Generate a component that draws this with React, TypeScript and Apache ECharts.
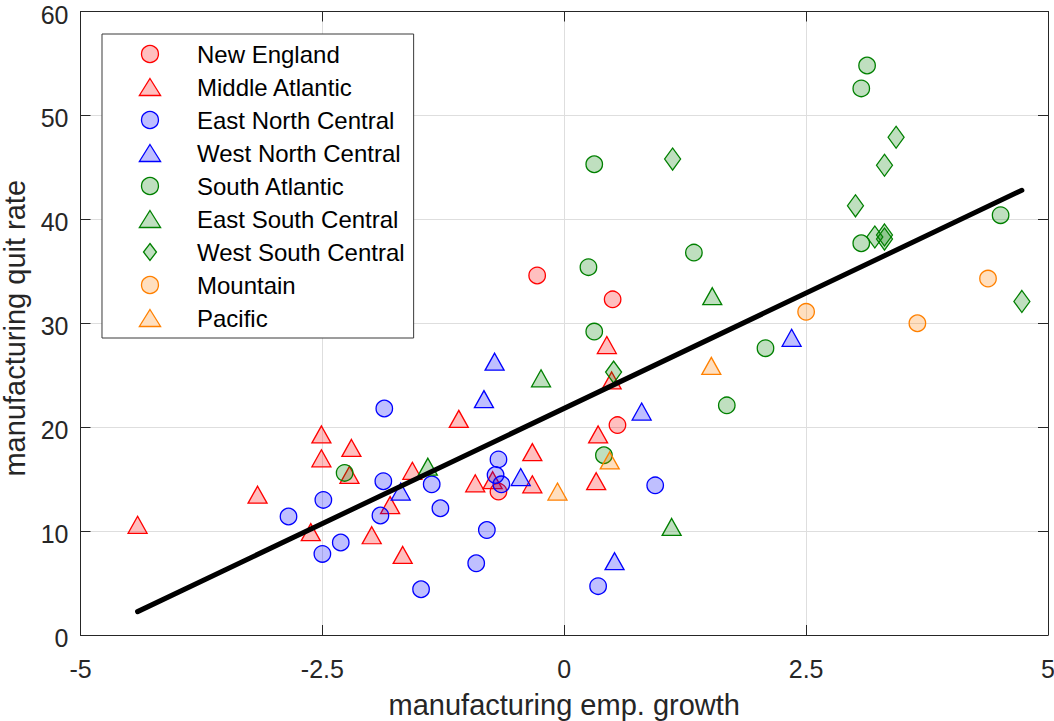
import React, { useEffect, useRef } from "react";
import * as echarts from "echarts";

const groupNames = [
  "New England",
  "Middle Atlantic",
  "East North Central",
  "West North Central",
  "South Atlantic",
  "East South Central",
  "West South Central",
  "Mountain",
  "Pacific",
];

const newEnglandX = [-0.28, 0.5, 0.55, -0.68];
const newEnglandY = [34.6, 32.3, 20.2, 13.8];

const middleAtlanticX = [-4.41, -3.17, -2.51, -2.51, -2.2, -2.22, -2.62, -1.99, -1.67, -1.8, -1.57, -1.09, -0.92, -0.74, -0.33, -0.33, 0.44, 0.49, 0.35, 0.33];
const middleAtlanticY = [10.6, 13.5, 19.3, 17.0, 18.0, 15.4, 9.9, 9.6, 7.7, 12.5, 15.8, 20.8, 14.6, 14.9, 17.6, 14.5, 27.9, 24.5, 19.3, 14.8];

const eastNorthCentralX = [-1.86, -1.87, -2.49, -2.85, -2.31, -2.5, -1.9, -1.37, -1.28, -1.48, -0.91, -0.8, -0.68, -0.71, -0.65, 0.94, 0.35];
const eastNorthCentralY = [21.8, 14.8, 13.0, 11.4, 8.9, 7.8, 11.5, 14.5, 12.2, 4.4, 6.9, 10.1, 16.9, 15.4, 14.5, 14.4, 4.7];

const westNorthCentralX = [-0.72, -0.83, -1.69, -0.45, 0.8, 2.35, 0.52];
const westNorthCentralY = [26.3, 22.7, 13.8, 15.2, 21.5, 28.6, 7.1];

const southAtlanticX = [3.13, 3.07, 0.31, 1.34, 0.25, 3.07, 4.51, 0.31, 2.08, 1.68, 0.41, -2.27];
const southAtlanticY = [54.8, 52.6, 45.3, 36.8, 35.4, 37.7, 40.4, 29.2, 27.6, 22.1, 17.3, 15.6];

const eastSouthCentralX = [1.53, -0.24, -1.41, 1.11];
const eastSouthCentralY = [32.6, 24.7, 16.2, 10.4];

const westSouthCentralX = [1.12, 3.43, 3.31, 3.01, 3.21, 3.31, 3.31, 4.73, 0.51];
const westSouthCentralY = [45.8, 47.9, 45.2, 41.3, 38.3, 38.5, 38.1, 32.1, 25.3];

const mountainX = [2.5, 4.38, 3.65];
const mountainY = [31.1, 34.3, 30.0];

const pacificX = [1.52, 0.47, -0.07];
const pacificY = [25.9, 16.8, 13.8];

const fitX = [-4.41, 4.73];
const fitY = [2.25, 42.8];

const xTicks = [-5, -2.5, 0, 2.5, 5];
const yTicks = [0, 10, 20, 30, 40, 50, 60];

const FONT = "'Liberation Sans', Arial, Helvetica, sans-serif";
const AXIS_COLOR = "#262626";

const RED = { edge: "#ff0000", fill: "rgba(255,0,0,0.25)" };
const BLUE = { edge: "#0000ff", fill: "rgba(0,0,255,0.25)" };
const GREEN = { edge: "#008000", fill: "rgba(0,128,0,0.25)" };
const ORANGE = { edge: "#ff8000", fill: "rgba(255,128,0,0.25)" };

const TRI_PATH = "path://M10,0L20,16L0,16Z";
const DIA_PATH = "path://M8,0L16,10.5L8,21L0,10.5Z";

type Kind = "circle" | "triangle" | "diamond";

const groupX = [newEnglandX, middleAtlanticX, eastNorthCentralX, westNorthCentralX, southAtlanticX, eastSouthCentralX, westSouthCentralX, mountainX, pacificX];
const groupY = [newEnglandY, middleAtlanticY, eastNorthCentralY, westNorthCentralY, southAtlanticY, eastSouthCentralY, westSouthCentralY, mountainY, pacificY];
const groupColor = [RED, RED, BLUE, BLUE, GREEN, GREEN, GREEN, ORANGE, ORANGE];
const groupKind: Kind[] = ["circle", "triangle", "circle", "triangle", "circle", "triangle", "diamond", "circle", "triangle"];

function symbolSize(k: Kind): number | number[] {
  if (k === "circle") return 16.5;
  if (k === "triangle") return [19, 17];
  return [16, 22];
}

function legendIcon(k: Kind): string {
  if (k === "circle") return "circle";
  if (k === "triangle") return TRI_PATH;
  return DIA_PATH;
}

export default function App() {
  const ref = useRef<HTMLDivElement>(null);

  useEffect(() => {
    if (!ref.current) return;
    const chart = echarts.init(ref.current, undefined, { renderer: "svg" });

    const scatterSeries = groupNames.map((name, i) => ({
      name,
      type: "scatter",
      xAxisIndex: 0,
      yAxisIndex: 0,
      symbol: groupKind[i],
      symbolSize: symbolSize(groupKind[i]),
      itemStyle: {
        color: groupColor[i].fill,
        borderColor: groupColor[i].edge,
        borderWidth: 1.3,
        opacity: 1,
      },
      emphasis: { disabled: true },
      data: groupX[i].map((x, j) => [x, groupY[i][j]]),
      z: 2,
    }));

    const axisLineStyle = { color: AXIS_COLOR, width: 1 };

    const option: any = {
      animation: false,
      backgroundColor: "#ffffff",
      textStyle: { fontFamily: FONT },
      grid: {
        left: 80.5,
        right: 6,
        top: 11.5,
        bottom: 86,
        containLabel: false,
        outerBoundsMode: "none",
      },
      legend: {
        orient: "vertical",
        left: 102,
        top: 34,
        padding: [3.5, 9, 3.5, 36.7],
        itemWidth: 84,
        itemHeight: 17,
        itemGap: 0,
        borderColor: "#3a3a3a",
        borderWidth: 1,
        backgroundColor: "#ffffff",
        selectedMode: false,
        textStyle: { fontFamily: FONT, fontSize: 24, color: "#000000", lineHeight: 33 },
        data: groupNames.map((name, i) => ({
          name,
          icon: legendIcon(groupKind[i]),
          itemStyle: {
            color: groupColor[i].fill,
            borderColor: groupColor[i].edge,
            borderWidth: 1.3,
          },
        })),
      },
      xAxis: [
        {
          type: "value",
          min: xTicks[0],
          max: xTicks[xTicks.length - 1],
          interval: 2.5,
          position: "bottom",
          name: "manufacturing emp. growth",
          nameLocation: "middle",
          nameGap: 55,
          nameTextStyle: { fontFamily: FONT, fontSize: 29, color: AXIS_COLOR },
          axisLine: { show: true, onZero: false, lineStyle: axisLineStyle },
          axisTick: { show: true, inside: true, length: 10, lineStyle: axisLineStyle },
          axisLabel: { fontFamily: FONT, fontSize: 25, color: AXIS_COLOR, margin: 21 },
          splitLine: { show: true, lineStyle: { color: "#dedede", width: 1 } },
        },
        {
          type: "value",
          min: xTicks[0],
          max: xTicks[xTicks.length - 1],
          interval: 2.5,
          position: "top",
          axisLine: { show: true, onZero: false, lineStyle: axisLineStyle },
          axisTick: { show: true, inside: true, length: 10, lineStyle: axisLineStyle },
          axisLabel: { show: false },
          splitLine: { show: false },
        },
      ],
      yAxis: [
        {
          type: "value",
          min: yTicks[0],
          max: yTicks[yTicks.length - 1],
          interval: 10,
          position: "left",
          name: "manufacturing quit rate",
          nameLocation: "middle",
          nameGap: 50,
          nameTextStyle: {
            fontFamily: FONT,
            fontSize: 29,
            lineHeight: 29,
            color: AXIS_COLOR,
            padding: [0, 10, 0, 0],
          },
          axisLine: { show: true, onZero: false, lineStyle: axisLineStyle },
          axisTick: { show: true, inside: true, length: 10, lineStyle: axisLineStyle },
          axisLabel: {
            fontFamily: FONT,
            fontSize: 25,
            color: AXIS_COLOR,
            margin: 12,
            verticalAlign: "top",
            lineHeight: 6,
          },
          splitLine: { show: true, lineStyle: { color: "#dedede", width: 1 } },
        },
        {
          type: "value",
          min: yTicks[0],
          max: yTicks[yTicks.length - 1],
          interval: 10,
          position: "right",
          axisLine: { show: true, onZero: false, lineStyle: axisLineStyle },
          axisTick: { show: true, inside: true, length: 10, lineStyle: axisLineStyle },
          axisLabel: { show: false },
          splitLine: { show: false },
        },
      ],
      series: [
        ...scatterSeries,
        {
          name: "fit",
          type: "line",
          xAxisIndex: 0,
          yAxisIndex: 0,
          data: fitX.map((x, i) => [x, fitY[i]]),
          showSymbol: false,
          symbol: "none",
          lineStyle: { color: "#000000", width: 5, cap: "round" },
          emphasis: { disabled: true },
          z: 3,
        },
      ],
    };

    chart.setOption(option);
    return () => chart.dispose();
  }, []);

  return <div ref={ref} style={{ width: 1054, height: 721, position: "absolute", left: 0, top: 0 }} />;
}
